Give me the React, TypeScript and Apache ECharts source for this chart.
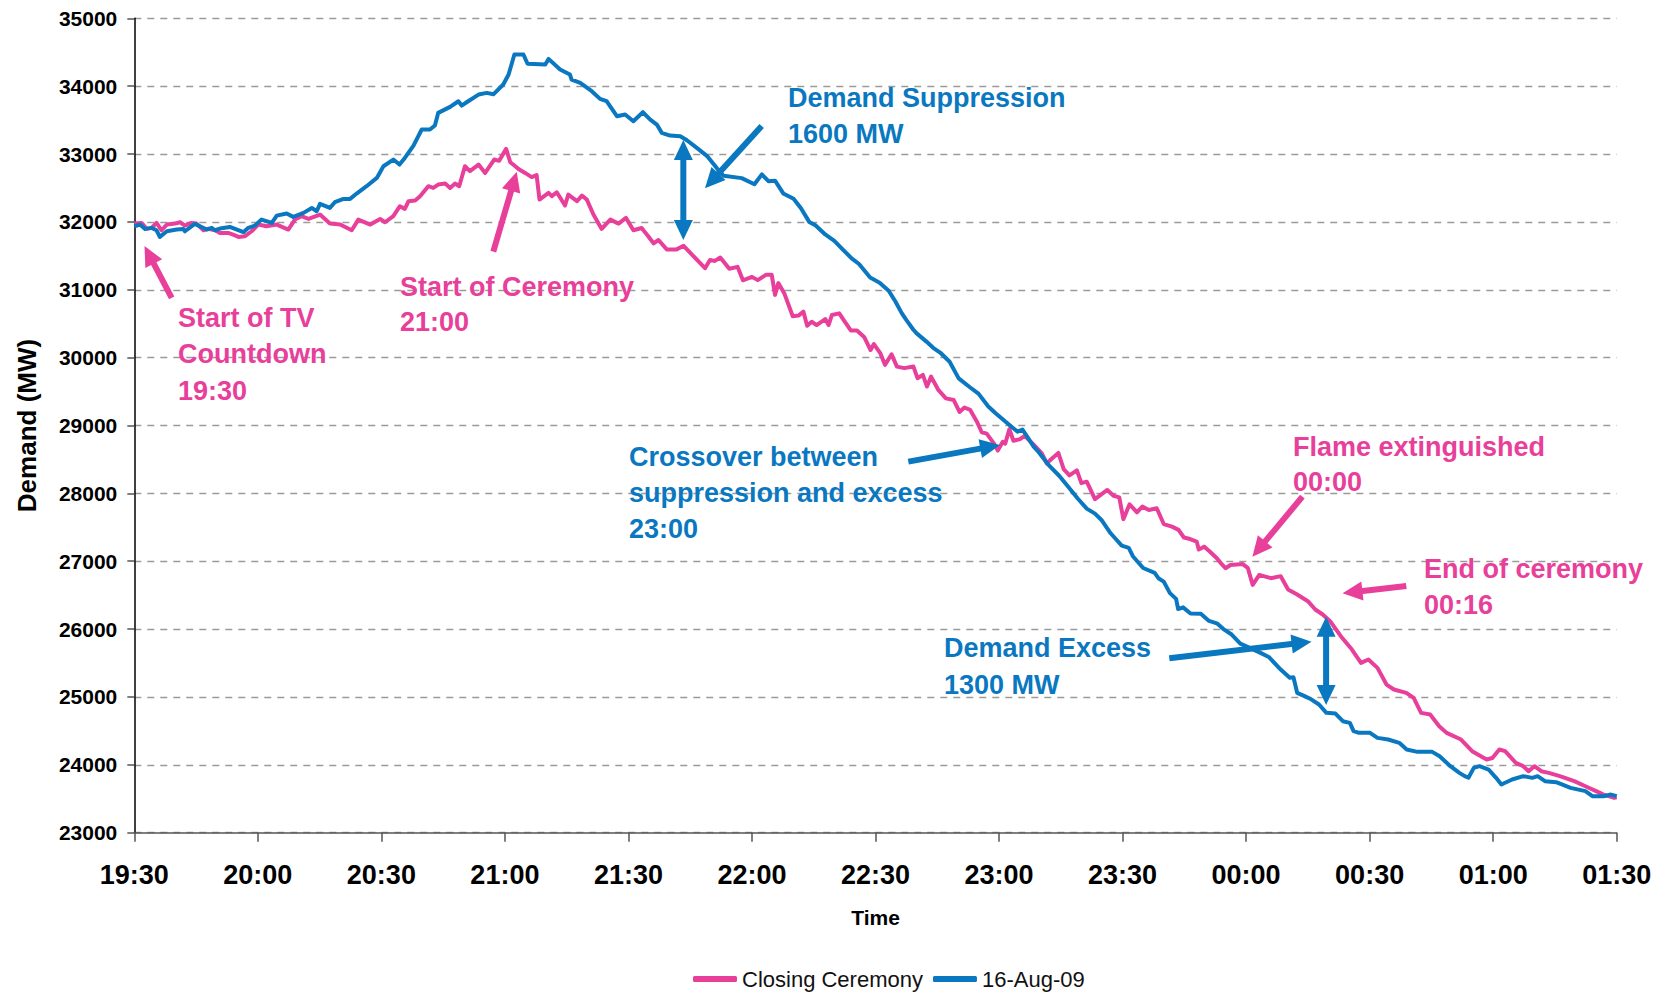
import React, { useEffect, useRef } from 'react';
import * as echarts from 'echarts';

const PINK = '#E8409A';
const BLUE = '#0A78C0';
const FONT = '"Liberation Sans", Arial, Helvetica, sans-serif';

// x tick labels, one every 30 minutes starting 19:30
const timeLabels = ['19:30', '20:00', '20:30', '21:00', '21:30', '22:00', '22:30', '23:00', '23:30', '00:00', '00:30', '01:00', '01:30'];

const seriesNames = ['Closing Ceremony', '16-Aug-09'];

// [minutes after 19:30, demand MW]
const closingCeremony: [number, number][] = [
  [0, 31975], [1.8, 31985], [3.0, 31897], [4.2, 31912], [5.4, 31985], [6.6, 31877], [7.9, 31961], [9.9, 31975], [11.1, 31995], [12.3, 31946],
  [13.9, 31985], [15.1, 31975], [16.8, 31877], [18.0, 31900], [19.6, 31877], [20.8, 31838], [22.8, 31838], [24.0, 31813], [25.3, 31779], [26.9, 31789],
  [28.5, 31862], [30.1, 31961], [32.1, 31936], [34.6, 31961], [37.4, 31887], [39.0, 32034], [40.6, 32084], [42.3, 32044], [45.1, 32108], [47.5, 31975],
  [50.0, 31961], [52.8, 31877], [54.4, 32034], [57.3, 31961], [59.7, 32044], [60.9, 31995], [62.9, 32084], [64.5, 32231], [65.7, 32192], [66.6, 32305],
  [68.2, 32314], [69.4, 32378], [71.4, 32526], [72.6, 32501], [73.8, 32550], [75.5, 32565], [76.7, 32501], [77.9, 32565], [78.9, 32526], [80.3, 32820],
  [81.5, 32747], [83.6, 32845], [85.2, 32722], [87.4, 32919], [88.6, 32900], [90.3, 33076], [91.3, 32880], [92.3, 32830], [93.5, 32771], [94.9, 32722],
  [96.5, 32660], [97.7, 32690], [98.4, 32329], [100.6, 32427], [101.4, 32380], [102.6, 32437], [104.6, 32241], [105.4, 32403], [107.5, 32305], [108.7, 32388],
  [109.9, 32329], [111.5, 32108], [113.5, 31897], [115.6, 32034], [117.6, 31975], [119.4, 32059], [121.2, 31877], [123.2, 31910], [124.9, 31782], [126.1, 31684],
  [127.3, 31733], [129.3, 31595], [131.7, 31595], [133.4, 31648], [135.6, 31508], [138.6, 31318], [139.8, 31440], [141.0, 31425], [142.3, 31475], [144.5, 31310],
  [146.5, 31338], [147.8, 31140], [150.0, 31190], [151.4, 31142], [153.4, 31220], [154.8, 31220], [155.6, 30925], [156.4, 31098], [157.9, 30940], [159.9, 30610],
  [161.3, 30620], [162.5, 30677], [163.4, 30470], [164.5, 30529], [165.7, 30480], [167.8, 30569], [168.6, 30480], [169.4, 30628], [171.2, 30652], [172.2, 30560],
  [174.0, 30400], [175.5, 30400], [177.3, 30300], [178.8, 30112], [179.6, 30200], [181.2, 30062], [182.3, 29894], [183.9, 30050], [185.2, 29868], [187.0, 29845],
  [189.2, 29870], [190.2, 29697], [191.5, 29745], [192.5, 29574], [193.5, 29720], [195.3, 29520], [197.1, 29400], [199.0, 29375], [200.4, 29200], [201.6, 29265],
  [203.0, 29230], [204.6, 29060], [205.8, 28900], [207.0, 28880], [208.7, 28741], [209.7, 28630], [210.9, 28760], [211.5, 28733], [212.5, 28945], [213.5, 28775],
  [215.1, 28800], [216.2, 28848], [218.3, 28725], [220.4, 28590], [221.6, 28443], [222.8, 28511], [224.4, 28595], [225.7, 28356], [227.1, 28266], [228.9, 28340],
  [230.0, 28150], [231.3, 28172], [233.3, 27915], [234.6, 27975], [236.3, 28050], [237.8, 27965], [239.2, 27940], [240.2, 27620], [241.7, 27840], [243.5, 27720],
  [244.8, 27805], [246.4, 27756], [248.3, 27780], [250.0, 27548], [252.0, 27510], [253.6, 27462], [254.9, 27350], [256.4, 27327], [258.0, 27290], [258.5, 27173],
  [259.8, 27215], [261.1, 27148], [262.9, 27045], [263.8, 26976], [265.0, 26897], [266.2, 26945], [269.2, 26958], [270.4, 26903], [271.6, 26651], [273.2, 26798],
  [276.0, 26750], [278.4, 26780], [280.2, 26583], [282.4, 26510], [285.0, 26411], [286.8, 26289], [288.6, 26215], [290.4, 26117], [293.0, 25896], [295.7, 25699],
  [297.9, 25503], [299.7, 25552], [301.9, 25429], [304.1, 25183], [305.9, 25110], [308.9, 25061], [310.7, 24987], [312.5, 24766], [314.7, 24741], [316.9, 24569],
  [318.7, 24471], [322.2, 24373], [324.9, 24201], [328.4, 24078], [329.8, 24100], [331.5, 24226], [332.9, 24201], [335.5, 24029], [337.3, 23980], [338.6, 23906],
  [340.0, 23980], [341.7, 23906], [343.5, 23882], [346.2, 23833], [349.7, 23759], [352.4, 23685], [355.0, 23612], [356.8, 23562], [359.4, 23513], [360, 23520],
];

const aug16: [number, number][] = [
  [0, 31936], [1.4, 31961], [2.6, 31897], [4.2, 31912], [5.4, 31877], [6.2, 31779], [7.9, 31862], [10.3, 31887], [11.9, 31897], [12.3, 31862],
  [14.7, 31971], [17.6, 31887], [18.8, 31912], [19.6, 31877], [20.8, 31902], [23.2, 31926], [26.5, 31848], [27.7, 31912], [29.3, 31946], [30.9, 32034],
  [33.4, 31985], [34.6, 32093], [37.0, 32123], [38.6, 32074], [41.1, 32133], [43.1, 32206], [44.3, 32157], [45.1, 32265], [47.5, 32206], [48.7, 32290],
  [50.8, 32339], [52.4, 32339], [54.0, 32418], [56.4, 32526], [58.9, 32648], [60.5, 32820], [62.9, 32919], [64.4, 32845], [65.7, 32943], [67.8, 33125],
  [69.8, 33361], [71.8, 33361], [73.0, 33420], [73.8, 33606], [76.7, 33695], [78.7, 33778], [79.5, 33714], [80.7, 33763], [83.6, 33876], [85.6, 33901],
  [87.2, 33880], [89.6, 34024], [90.9, 34171], [92.3, 34466], [94.5, 34466], [95.5, 34330], [99.8, 34318], [100.6, 34402], [103.4, 34245], [105.8, 34171],
  [106.2, 34098], [108.3, 34048], [111.1, 33926], [113.1, 33813], [114.7, 33778], [117.2, 33557], [119.2, 33582], [121.2, 33484], [123.5, 33616], [125.3, 33508],
  [126.9, 33434], [128.1, 33312], [130.1, 33272], [132.6, 33262], [134.2, 33203], [136.6, 33091], [139.2, 32965], [141.5, 32789], [143.1, 32680], [147.5, 32645],
  [150.6, 32555], [152.4, 32700], [154.0, 32600], [155.6, 32607], [157.6, 32420], [160.1, 32340], [161.9, 32200], [163.9, 32000], [165.4, 31950], [167.8, 31815],
  [170.0, 31720], [172.2, 31585], [174.2, 31463], [176.0, 31380], [178.7, 31180], [181.0, 31105], [183.2, 30985], [184.8, 30830], [186.4, 30652], [187.6, 30545],
  [189.2, 30411], [190.0, 30357], [192.3, 30240], [194.0, 30145], [195.7, 30075], [198.0, 29940], [200.2, 29695], [203.0, 29560], [205.0, 29470], [207.4, 29280],
  [209.1, 29183], [211.1, 29080], [213.1, 28978], [214.5, 28910], [215.7, 28939], [216.8, 28840], [218.4, 28690], [219.6, 28610], [222.0, 28420], [224.6, 28260],
  [226.9, 28090], [229.1, 27925], [231.3, 27775], [233.3, 27701], [235.0, 27600], [237.1, 27412], [239.8, 27230], [241.5, 27197], [242.5, 27074], [245.0, 26900],
  [247.8, 26829], [248.7, 26750], [250.0, 26700], [251.5, 26530], [253.0, 26445], [253.5, 26295], [254.7, 26320], [256.5, 26230], [259.0, 26225], [261.0, 26120],
  [262.9, 26085], [264.5, 26000], [266.5, 25920], [268.6, 25786], [271.0, 25720], [273.5, 25650], [275.5, 25590], [278.4, 25404], [280.6, 25282], [281.5, 25290],
  [282.4, 25061], [284.2, 25012], [285.9, 24962], [287.7, 24889], [289.5, 24766], [291.7, 24756], [293.5, 24643], [295.2, 24618], [296.1, 24496], [297.4, 24471],
  [300.1, 24471], [301.9, 24397], [304.5, 24373], [307.2, 24324], [309.0, 24226], [311.6, 24191], [315.2, 24191], [317.0, 24127], [319.6, 23980], [321.8, 23882],
  [323.1, 23833], [324.0, 23810], [325.3, 23955], [326.7, 23980], [328.9, 23931], [330.7, 23808], [332.0, 23710], [334.6, 23784], [337.3, 23833], [339.5, 23808],
  [340.8, 23833], [342.6, 23759], [345.3, 23744], [348.8, 23661], [352.4, 23612], [354.1, 23538], [356.8, 23538], [358.6, 23562], [360, 23538],
];

// annotation arrows: [tail minutes, tail MW, tip minutes, tip MW, double-headed]
const pinkArrows: number[][] = [
  [9.08, 30879, 2.48, 31645, 0],
  [87.18, 31561, 92.87, 32740, 0],
  [283.67, 27951, 271.53, 27067, 0],
  [308.91, 26635, 293.42, 26528, 0],
];
const blueArrows: number[][] = [
  [152.36, 33413, 138.6, 32495, 0],
  [133.33, 33207, 133.33, 31733, 1],
  [187.97, 28467, 210.23, 28713, 0],
  [251.35, 25570, 285.88, 25815, 0],
  [289.43, 26183, 289.43, 24882, 1],
];

const annotationTexts = [
  { text: 'Start of TV\nCountdown\n19:30', color: PINK, x: 178, y: 300, lh: 36.3 },
  { text: 'Start of Ceremony\n21:00', color: PINK, x: 400, y: 269, lh: 35.5 },
  { text: 'Demand Suppression\n1600 MW', color: BLUE, x: 788, y: 80, lh: 36 },
  { text: 'Crossover between\nsuppression and excess\n23:00', color: BLUE, x: 629, y: 438.5, lh: 36.2 },
  { text: 'Flame extinguished\n00:00', color: PINK, x: 1293, y: 429, lh: 35 },
  { text: 'End of ceremony\n00:16', color: PINK, x: 1424, y: 551, lh: 36 },
  { text: 'Demand Excess\n1300 MW', color: BLUE, x: 944, y: 629.5, lh: 37 },
];

function arrowSeries(name: string, data: number[][], color: string) {
  return {
    type: 'custom',
    name,
    data,
    silent: true,
    clip: false,
    z: 5,
    encode: { x: [0, 2], y: [1, 3] },
    renderItem: (_params: any, api: any) => {
      const a = api.coord([api.value(0), api.value(1)]);
      const b = api.coord([api.value(2), api.value(3)]);
      const dbl = api.value(4) === 1;
      const dx = b[0] - a[0];
      const dy = b[1] - a[1];
      const len = Math.hypot(dx, dy) || 1;
      const ux = dx / len;
      const uy = dy / len;
      const nx = -uy;
      const ny = ux;
      const H = 20;
      const W = 19;
      const head = (tip: number[], sx: number, sy: number) => ({
        type: 'polygon',
        shape: {
          points: [
            [tip[0], tip[1]],
            [tip[0] - sx * H + (nx * W) / 2, tip[1] - sy * H + (ny * W) / 2],
            [tip[0] - sx * H - (nx * W) / 2, tip[1] - sy * H - (ny * W) / 2],
          ],
        },
        style: { fill: color },
      });
      const start = dbl ? [a[0] + ux * H * 0.8, a[1] + uy * H * 0.8] : a;
      const end = [b[0] - ux * H * 0.8, b[1] - uy * H * 0.8];
      const children: any[] = [
        { type: 'line', shape: { x1: start[0], y1: start[1], x2: end[0], y2: end[1] }, style: { stroke: color, lineWidth: 6 } },
        head(b, ux, uy),
      ];
      if (dbl) children.push(head(a, -ux, -uy));
      return { type: 'group', children };
    },
  };
}

export default function App() {
  const ref = useRef<HTMLDivElement>(null);

  useEffect(() => {
    if (!ref.current) return;
    const chart = echarts.init(ref.current, undefined, { renderer: 'svg' });
    const option: any = {
      animation: false,
      backgroundColor: '#ffffff',
      textStyle: { fontFamily: FONT },
      grid: { left: 134.3, right: 52.3, top: 18.3, bottom: 161.3, containLabel: false },
      legend: {
        data: seriesNames,
        left: 693,
        top: 967,
        icon: 'roundRect',
        itemWidth: 44,
        itemHeight: 6,
        itemGap: 10,
        padding: 0,
        textStyle: { fontSize: 22, lineHeight: 24, color: '#111', fontFamily: FONT },
        selectedMode: false,
      },
      xAxis: {
        type: 'value',
        min: 0,
        max: 360,
        interval: 30,
        name: 'Time',
        nameLocation: 'middle',
        nameGap: 74,
        nameTextStyle: { fontSize: 21, fontWeight: 'bold', color: '#000', fontFamily: FONT },
        axisLine: { show: true, lineStyle: { color: '#555', width: 1.5 } },
        axisTick: { show: true, inside: false, length: 9, lineStyle: { color: '#555', width: 1.5 } },
        axisLabel: {
          margin: 29,
          fontSize: 27,
          fontWeight: 'bold',
          color: '#000',
          fontFamily: FONT,
          formatter: (v: number) => timeLabels[Math.round(v / 30)] ?? '',
        },
        splitLine: { show: false },
      },
      yAxis: {
        type: 'value',
        min: 23000,
        max: 35000,
        interval: 1000,
        name: 'Demand (MW)',
        nameLocation: 'middle',
        nameGap: 94,
        nameTextStyle: { fontSize: 26, fontWeight: 'bold', color: '#000', fontFamily: FONT },
        axisLine: { show: true, lineStyle: { color: '#000', width: 1.5 } },
        axisTick: { show: true, inside: false, length: 7, lineStyle: { color: '#555', width: 1.5 } },
        axisLabel: {
          margin: 17,
          fontSize: 21,
          fontWeight: 'bold',
          color: '#000',
          fontFamily: FONT,
          formatter: (v: number) => String(v),
        },
        splitLine: { show: true, lineStyle: { color: '#9a9a9a', width: 1.3, type: [7, 6] } },
      },
      series: [
        {
          name: seriesNames[0],
          type: 'line',
          data: closingCeremony,
          symbol: 'none',
          showSymbol: false,
          color: PINK,
          lineStyle: { color: PINK, width: 4, join: 'round' },
          z: 2,
        },
        {
          name: seriesNames[1],
          type: 'line',
          data: aug16,
          symbol: 'none',
          showSymbol: false,
          color: BLUE,
          lineStyle: { color: BLUE, width: 4, join: 'round' },
          z: 3,
        },
        arrowSeries('pinkArrows', pinkArrows, PINK),
        arrowSeries('blueArrows', blueArrows, BLUE),
      ],
      graphic: annotationTexts.map((a) => ({
        type: 'text',
        x: a.x,
        y: a.y,
        z: 10,
        silent: true,
        style: {
          text: a.text,
          fill: a.color,
          fontSize: 27,
          fontWeight: 'bold',
          fontFamily: FONT,
          lineHeight: a.lh,
          align: 'left',
          verticalAlign: 'top',
        },
      })),
    };
    chart.setOption(option);
    return () => chart.dispose();
  }, []);

  return <div ref={ref} style={{ position: 'absolute', left: 0, top: 0, width: 1669, height: 994 }} />;
}
